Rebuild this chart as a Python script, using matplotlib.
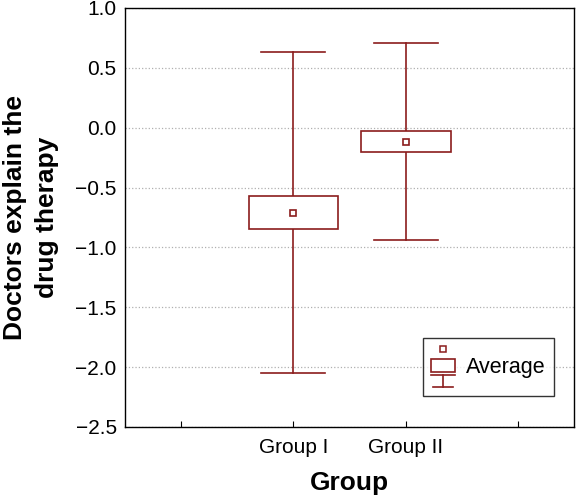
import matplotlib
matplotlib.use("Agg")
import matplotlib.pyplot as plt
from matplotlib.patches import Rectangle
from matplotlib.lines import Line2D
from matplotlib.legend_handler import HandlerBase

plt.rcParams['font.family'] = ['Liberation Sans', 'DejaVu Sans']

# data
groups = ['Group I', 'Group II']
means = [-0.717, -0.117]
box_low = [-0.85, -0.20]
box_high = [-0.575, -0.03]
whisk_low = [-2.05, -0.94]
whisk_high = [0.633, 0.708]
xtick_labels = ['', 'Group I', 'Group II', '']

col = '#8b1c1c'


class BoxHandler(HandlerBase):
    # small box-and-whisker icon for the legend
    def create_artists(self, legend, orig, xd, yd, w, h, fontsize, trans):
        x0, y0 = -xd, -yd
        cx = x0 + w / 2
        arts = []
        arts.append(Line2D([cx], [y0 + h * 0.92], marker='s', ms=5, mfc='white',
                           mec=col, mew=1.1, ls='none', transform=trans))
        arts.append(Rectangle((x0, y0 + h * 0.37), w, h * 0.33,
                              fc='white', ec=col, lw=1.2, transform=trans))
        arts.append(Line2D([x0, x0 + w], [y0 + h * 0.31, y0 + h * 0.31],
                           color=col, lw=1.2, transform=trans))
        arts.append(Line2D([cx, cx], [y0 + h * 0.31, y0 + h * 0.01], color=col, lw=1.2,
                           transform=trans))
        arts.append(Line2D([x0 + w * 0.07, x0 + w * 0.93], [y0 + h * 0.01, y0 + h * 0.01],
                           color=col, lw=1.2, transform=trans))
        return arts


fig = plt.figure(figsize=(5.76, 4.97), dpi=100)
ax = fig.add_axes([0.217, 0.141, 0.780, 0.843])

pos = [2, 3]
bw = 0.8
cw = 0.57
for p, m, bl, bh, wl, wh in zip(pos, means, box_low, box_high, whisk_low, whisk_high):
    ax.plot([p, p], [wl, bl], color=col, lw=1.2, zorder=3)
    ax.plot([p, p], [bh, wh], color=col, lw=1.2, zorder=3)
    ax.plot([p - cw / 2, p + cw / 2], [wl, wl], color=col, lw=1.2, zorder=3)
    ax.plot([p - cw / 2, p + cw / 2], [wh, wh], color=col, lw=1.2, zorder=3)
    ax.add_patch(Rectangle((p - bw / 2, bl), bw, bh - bl, fc='white', ec=col, lw=1.2, zorder=3))
    ax.plot([p], [m], marker='s', ms=5, mfc='white', mec=col, mew=1.2, ls='none', zorder=4)

ax.set_xlim(0.5, 4.5)
ax.set_ylim(-2.5, 1.0)
ax.set_xticks([1, 2, 3, 4])
ax.set_xticklabels(xtick_labels, fontsize=15)
ax.set_yticks([-2.5, -2.0, -1.5, -1.0, -0.5, 0.0, 0.5, 1.0])
ax.set_yticklabels([f'{v:.1f}'.replace('-', '\u2212') for v in ax.get_yticks()], fontsize=15)
ax.tick_params(axis='x', direction='in', length=4, pad=8)
ax.tick_params(axis='y', length=0, pad=6)
ax.grid(axis='y', linestyle=':', color='#b0b0b0', lw=0.9)
ax.set_axisbelow(True)
for s in ax.spines.values():
    s.set_linewidth(1.0)

ax.set_xlabel('Group', fontsize=19, fontweight='bold', labelpad=10)
ax.set_ylabel('Doctors explain the\ndrug therapy', fontsize=19, fontweight='bold',
              labelpad=12, linespacing=1.4)

h = Line2D([], [], color=col)
leg = ax.legend([h], ['Average'], handler_map={Line2D: BoxHandler()},
                loc='lower right', bbox_to_anchor=(0.955, 0.074), fontsize=15.5,
                frameon=True, fancybox=False, edgecolor='black', handlelength=1.1,
                handleheight=2.56, borderpad=0.4, borderaxespad=0, handletextpad=0.5)
leg.get_frame().set_linewidth(1.0)

fig.savefig('out.png', dpi=100)
